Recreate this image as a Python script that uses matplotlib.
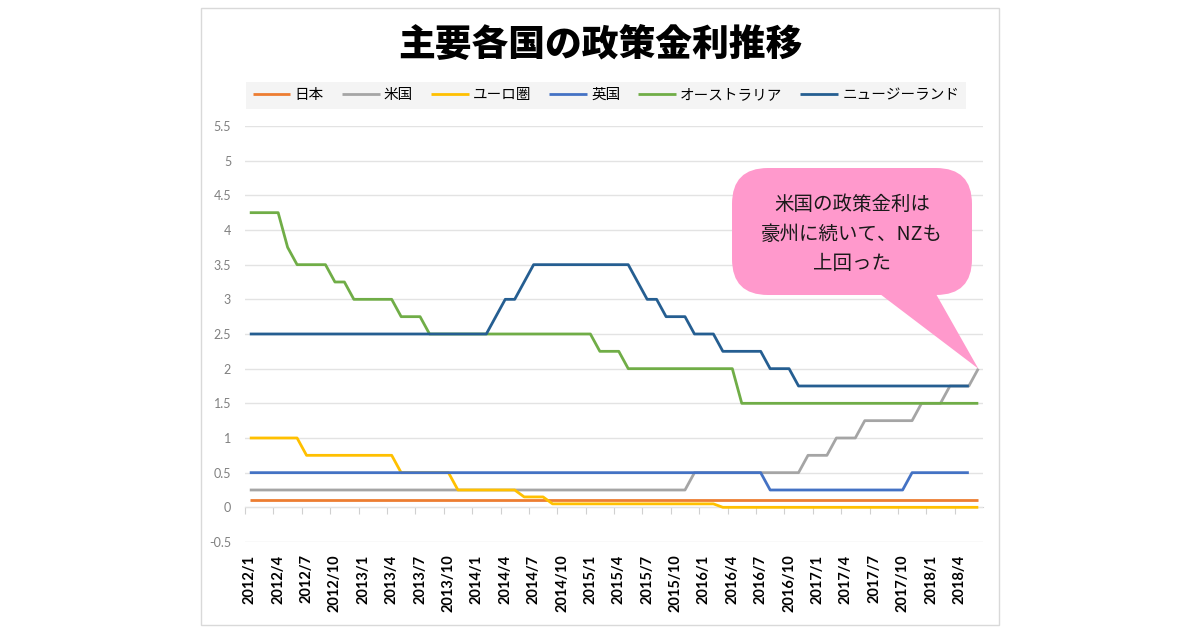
import numpy as np
import matplotlib
matplotlib.use("Agg")
import matplotlib.pyplot as plt
from matplotlib.patches import FancyBboxPatch, Polygon, Rectangle

plt.rcParams['font.family'] = ['Lato', 'Noto Sans CJK JP', 'DejaVu Sans']

nan = np.nan
# monthly, 2012/1 .. 2018/6 (one row per year)
months = [f"{y}/{m}" for y in range(2012, 2019) for m in range(1, 13)][:78]

japan = [0.1] * 12 + [0.1] * 12 + [0.1] * 12 + [0.1] * 12 + [0.1] * 12 + [0.1] * 12 + [0.1] * 6

usa = [0.25, 0.25, 0.25, 0.25, 0.25, 0.25, 0.25, 0.25, 0.25, 0.25, 0.25, 0.25,
       0.25, 0.25, 0.25, 0.25, 0.25, 0.25, 0.25, 0.25, 0.25, 0.25, 0.25, 0.25,
       0.25, 0.25, 0.25, 0.25, 0.25, 0.25, 0.25, 0.25, 0.25, 0.25, 0.25, 0.25,
       0.25, 0.25, 0.25, 0.25, 0.25, 0.25, 0.25, 0.25, 0.25, 0.25, 0.25, 0.5,
       0.5, 0.5, 0.5, 0.5, 0.5, 0.5, 0.5, 0.5, 0.5, 0.5, 0.5, 0.75,
       0.75, 0.75, 1.0, 1.0, 1.0, 1.25, 1.25, 1.25, 1.25, 1.25, 1.25, 1.5,
       1.5, 1.5, 1.75, 1.75, 1.75, 2.0]

euro = [1.0, 1.0, 1.0, 1.0, 1.0, 1.0, 0.75, 0.75, 0.75, 0.75, 0.75, 0.75,
        0.75, 0.75, 0.75, 0.75, 0.5, 0.5, 0.5, 0.5, 0.5, 0.5, 0.25, 0.25,
        0.25, 0.25, 0.25, 0.25, 0.25, 0.15, 0.15, 0.15, 0.05, 0.05, 0.05, 0.05,
        0.05, 0.05, 0.05, 0.05, 0.05, 0.05, 0.05, 0.05, 0.05, 0.05, 0.05, 0.05,
        0.05, 0.05, 0.0, 0.0, 0.0, 0.0, 0.0, 0.0, 0.0, 0.0, 0.0, 0.0,
        0.0, 0.0, 0.0, 0.0, 0.0, 0.0, 0.0, 0.0, 0.0, 0.0, 0.0, 0.0,
        0.0, 0.0, 0.0, 0.0, 0.0, 0.0]

uk = [0.5, 0.5, 0.5, 0.5, 0.5, 0.5, 0.5, 0.5, 0.5, 0.5, 0.5, 0.5,
      0.5, 0.5, 0.5, 0.5, 0.5, 0.5, 0.5, 0.5, 0.5, 0.5, 0.5, 0.5,
      0.5, 0.5, 0.5, 0.5, 0.5, 0.5, 0.5, 0.5, 0.5, 0.5, 0.5, 0.5,
      0.5, 0.5, 0.5, 0.5, 0.5, 0.5, 0.5, 0.5, 0.5, 0.5, 0.5, 0.5,
      0.5, 0.5, 0.5, 0.5, 0.5, 0.5, 0.5, 0.25, 0.25, 0.25, 0.25, 0.25,
      0.25, 0.25, 0.25, 0.25, 0.25, 0.25, 0.25, 0.25, 0.25, 0.25, 0.5, 0.5,
      0.5, 0.5, 0.5, 0.5, 0.5, nan]

australia = [4.25, 4.25, 4.25, 4.25, 3.75, 3.5, 3.5, 3.5, 3.5, 3.25, 3.25, 3.0,
             3.0, 3.0, 3.0, 3.0, 2.75, 2.75, 2.75, 2.5, 2.5, 2.5, 2.5, 2.5,
             2.5, 2.5, 2.5, 2.5, 2.5, 2.5, 2.5, 2.5, 2.5, 2.5, 2.5, 2.5,
             2.5, 2.25, 2.25, 2.25, 2.0, 2.0, 2.0, 2.0, 2.0, 2.0, 2.0, 2.0,
             2.0, 2.0, 2.0, 2.0, 1.5, 1.5, 1.5, 1.5, 1.5, 1.5, 1.5, 1.5,
             1.5, 1.5, 1.5, 1.5, 1.5, 1.5, 1.5, 1.5, 1.5, 1.5, 1.5, 1.5,
             1.5, 1.5, 1.5, 1.5, 1.5, 1.5]

nz = [2.5, 2.5, 2.5, 2.5, 2.5, 2.5, 2.5, 2.5, 2.5, 2.5, 2.5, 2.5,
      2.5, 2.5, 2.5, 2.5, 2.5, 2.5, 2.5, 2.5, 2.5, 2.5, 2.5, 2.5,
      2.5, 2.5, 2.75, 3.0, 3.0, 3.25, 3.5, 3.5, 3.5, 3.5, 3.5, 3.5,
      3.5, 3.5, 3.5, 3.5, 3.5, 3.25, 3.0, 3.0, 2.75, 2.75, 2.75, 2.5,
      2.5, 2.5, 2.25, 2.25, 2.25, 2.25, 2.25, 2.0, 2.0, 2.0, 1.75, 1.75,
      1.75, 1.75, 1.75, 1.75, 1.75, 1.75, 1.75, 1.75, 1.75, 1.75, 1.75, 1.75,
      1.75, 1.75, 1.75, 1.75, 1.75, nan]

series = [("日本", japan, "#ED7D31"),
          ("米国", usa, "#A5A5A5"),
          ("ユーロ圏", euro, "#FFC000"),
          ("英国", uk, "#4472C4"),
          ("オーストラリア", australia, "#70AD47"),
          ("ニュージーランド", nz, "#255E91")]

fig = plt.figure(figsize=(12, 6.3), dpi=100)
ax = fig.add_axes([0.2042, 0.1397, 0.615, 0.6603])

x = np.arange(len(months))
for name, vals, col in series:
    ax.plot(x, vals, color=col, lw=2.0, label=name, solid_capstyle='butt')

ax.set_xlim(-0.5, len(months) - 0.5)
ax.set_ylim(-0.5, 5.5)
yt = np.arange(-0.5, 5.51, 0.5)
ax.set_yticks(yt)
ax.set_yticklabels([f"{v:g}" for v in yt], color="#808080", fontsize=9)
ax.grid(axis='y', color='#E3E3E3', lw=1)
ax.set_axisbelow(True)
for s in ax.spines.values():
    s.set_visible(False)
ax.tick_params(axis='y', length=0, pad=10)

ax.set_xticks(x[::3])
ax.set_xticklabels(months[::3], rotation=90, fontsize=10.5, fontweight='bold', color='black')
ax.tick_params(axis='x', length=0, pad=9)

# category axis crossing at 0 with tick marks between categories
sec = ax.secondary_xaxis(0.5 / 6.0)
sec.set_xticks(x[::3] - 0.5)
sec.set_xticklabels([])
sec.tick_params(axis='x', length=5, color='#D0D0D0', direction='out')
sec.spines['bottom'].set_color('#D0D0D0')

fig.text(0.5, 0.928, "主要各国の政策金利推移", ha='center', va='center',
         fontsize=26.5, fontweight='heavy', family=['Noto Sans CJK JP', 'DejaVu Sans'])

leg = fig.legend(loc='center', bbox_to_anchor=(0.505, 0.849), ncol=6, fontsize=10.5,
                 frameon=True, facecolor='#F4F4F4', edgecolor='none', fancybox=False,
                 handlelength=2.6, handletextpad=0.3, columnspacing=1.2,
                 borderpad=0.45)
leg.get_frame().set_alpha(1)

# chart frame
fig.patches.append(Rectangle((201 / 1200, 1 - 625 / 630), 798 / 1200, 617 / 630,
                             transform=fig.transFigure, fill=False, edgecolor='#D9D9D9', lw=1))

# callout
pink = '#FF99CC'
bx0, bx1 = 732 / 1200, 972 / 1200
by0, by1 = 1 - 295 / 630, 1 - 168 / 630
fig.canvas.draw()
tip = fig.transFigure.inverted().transform(ax.transData.transform((len(months) - 1, usa[-1])))
tail = Polygon([(873 / 1200, by0 + 0.01), (933 / 1200, by0 + 0.01), tuple(tip)],
               closed=True, transform=fig.transFigure, facecolor=pink, edgecolor='none')
fig.patches.append(tail)
box = FancyBboxPatch((bx0, by0), bx1 - bx0, by1 - by0,
                     boxstyle="round,pad=0,rounding_size=0.03",
                     mutation_aspect=1200 / 630,
                     transform=fig.transFigure, facecolor=pink, edgecolor='none')
fig.patches.append(box)
fig.text((bx0 + bx1) / 2, 1 - 234 / 630, "米国の政策金利は\n豪州に続いて、NZも\n上回った",
         ha='center', va='center', fontsize=14, linespacing=1.55, color='#1a1a1a',
         family=['Noto Sans CJK JP', 'DejaVu Sans'])

fig.savefig("out.png", dpi=100, facecolor='white')
